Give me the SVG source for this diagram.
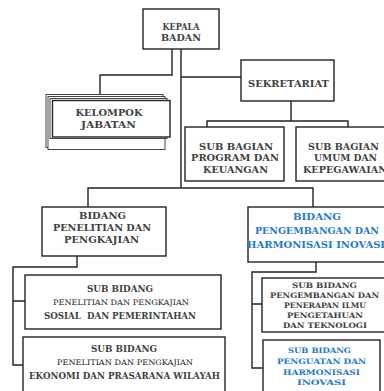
<svg xmlns="http://www.w3.org/2000/svg" width="384" height="391" viewBox="0 0 384 391">
<style>
.b{fill:#fff;stroke:#222;stroke-width:1.4}
.k{fill:#fff;stroke:#333;stroke-width:0.9}
.c{fill:none;stroke:#222;stroke-width:1.4}
text{font-family:"DejaVu Serif","Liberation Serif",serif;font-size:9.5px;fill:#404040;text-anchor:middle;font-weight:bold}
.s{font-size:7.5px}
.n{font-weight:normal;fill:#222}
.bl{fill:#1f78d1;font-weight:bold}
</style>
<rect width="384" height="391" fill="#fff"/>
<g id="connectors">
<path class="c" d="M172,49 V75 H100 V94"/>
<path class="c" d="M181,49 V188"/>
<path class="c" d="M181,77 H241"/>
<path class="c" d="M291,101 V121 M207,127 V121 H348 V127"/>
<path class="c" d="M88,207 V188 H313 V207"/>
<path class="c" d="M77,256 V267 H13 V365 H23 M13,301 H25"/>
<path class="c" d="M316,262 V272 H252 V368 H263 M252,304 H262"/>
</g>
<g id="kelompok">
<rect class="k" x="46" y="94.5" width="117" height="53"/>
<rect class="k" x="48" y="96.5" width="117" height="53"/>
<rect class="k" x="50" y="98.5" width="117" height="40"/>
<rect class="b" x="52.5" y="100.5" width="117.5" height="36.5"/>
<text x="109" y="116" textLength="67" lengthAdjust="spacingAndGlyphs">KELOMPOK</text>
<text x="108.5" y="128" textLength="55" lengthAdjust="spacingAndGlyphs">JABATAN</text>
</g>
<g id="kepala">
<rect class="b" x="143" y="9" width="76" height="40"/>
<text x="181" y="29.5" textLength="37" lengthAdjust="spacingAndGlyphs">KEPALA</text>
<text x="181" y="40.5" textLength="40" lengthAdjust="spacingAndGlyphs">BADAN</text>
</g>
<g id="sekretariat">
<rect class="b" x="241" y="60" width="93" height="41"/>
<text x="288.5" y="86.5" textLength="81" lengthAdjust="spacingAndGlyphs">SEKRETARIAT</text>
</g>
<g id="sub-program">
<rect class="b" x="185" y="127" width="99" height="54"/>
<text x="236" y="149.5" textLength="74" lengthAdjust="spacingAndGlyphs">SUB BAGIAN</text>
<text x="235" y="160.5" textLength="88" lengthAdjust="spacingAndGlyphs">PROGRAM DAN</text>
<text x="235.5" y="172.5" textLength="65" lengthAdjust="spacingAndGlyphs">KEUANGAN</text>
</g>
<g id="sub-umum">
<rect class="b" x="296" y="127" width="100" height="54"/>
<text x="343.5" y="149.5" textLength="71" lengthAdjust="spacingAndGlyphs">SUB BAGIAN</text>
<text x="345.5" y="160.5" textLength="63" lengthAdjust="spacingAndGlyphs">UMUM DAN</text>
<text x="345" y="172.5" textLength="84" lengthAdjust="spacingAndGlyphs">KEPEGAWAIAN</text>
</g>
<g id="bidang-penelitian">
<rect class="b" x="42" y="207" width="124" height="49"/>
<text x="102.5" y="218.5" textLength="47" lengthAdjust="spacingAndGlyphs">BIDANG</text>
<text x="102" y="230.5" textLength="98" lengthAdjust="spacingAndGlyphs">PENELITIAN DAN</text>
<text x="101.5" y="242.5" textLength="75" lengthAdjust="spacingAndGlyphs">PENGKAJIAN</text>
</g>
<g id="bidang-pengembangan">
<rect class="b" x="248" y="207" width="150" height="55"/>
<text class="bl" x="317" y="219.5" textLength="48" lengthAdjust="spacingAndGlyphs">BIDANG</text>
<text class="bl" x="317" y="233.5" textLength="124" lengthAdjust="spacingAndGlyphs">PENGEMBANGAN DAN</text>
<text class="bl" x="316" y="247.5" textLength="138" lengthAdjust="spacingAndGlyphs">HARMONISASI INOVASI</text>
</g>
<g id="sub-sosial">
<rect class="b" x="25" y="275" width="196" height="54"/>
<text x="120" y="291.5" textLength="66" lengthAdjust="spacingAndGlyphs">SUB BIDANG</text>
<text class="s n" x="121" y="305" textLength="136" lengthAdjust="spacingAndGlyphs">PENELITIAN DAN PENGKAJIAN</text>
<text x="120" y="318.5" textLength="152" lengthAdjust="spacingAndGlyphs" xml:space="preserve">SOSIAL  DAN PEMERINTAHAN</text>
</g>
<g id="sub-ekonomi">
<rect class="b" x="23" y="337" width="202" height="70"/>
<text x="124" y="351.5" textLength="66" lengthAdjust="spacingAndGlyphs">SUB BIDANG</text>
<text class="s n" x="125" y="364.5" textLength="136" lengthAdjust="spacingAndGlyphs">PENELITIAN DAN PENGKAJIAN</text>
<text x="124.5" y="378.5" textLength="191" lengthAdjust="spacingAndGlyphs">EKONOMI DAN PRASARANA WILAYAH</text>
</g>
<g id="sub-iptek">
<rect class="b" x="262" y="278" width="130" height="54"/>
<text class="s" x="324.5" y="288" textLength="65" lengthAdjust="spacingAndGlyphs">SUB BIDANG</text>
<text class="s" x="324.5" y="298" textLength="109" lengthAdjust="spacingAndGlyphs">PENGEMBANGAN DAN</text>
<text class="s" x="325" y="308" textLength="82" lengthAdjust="spacingAndGlyphs">PENERAPAN ILMU</text>
<text class="s" x="325" y="318" textLength="76" lengthAdjust="spacingAndGlyphs">PENGETAHUAN</text>
<text class="s" x="325" y="328" textLength="84" lengthAdjust="spacingAndGlyphs">DAN TEKNOLOGI</text>
</g>
<g id="sub-penguatan">
<rect class="b" x="263" y="340" width="117" height="60"/>
<text class="s bl" x="319.5" y="352.5" textLength="63" lengthAdjust="spacingAndGlyphs">SUB BIDANG</text>
<text class="s bl" x="321.5" y="363.5" textLength="89" lengthAdjust="spacingAndGlyphs">PENGUATAN DAN</text>
<text class="s bl" x="321.5" y="374.5" textLength="77" lengthAdjust="spacingAndGlyphs">HARMONISASI</text>
<text class="s bl" x="321.5" y="384.5" textLength="49" lengthAdjust="spacingAndGlyphs">INOVASI</text>
</g>
</svg>
